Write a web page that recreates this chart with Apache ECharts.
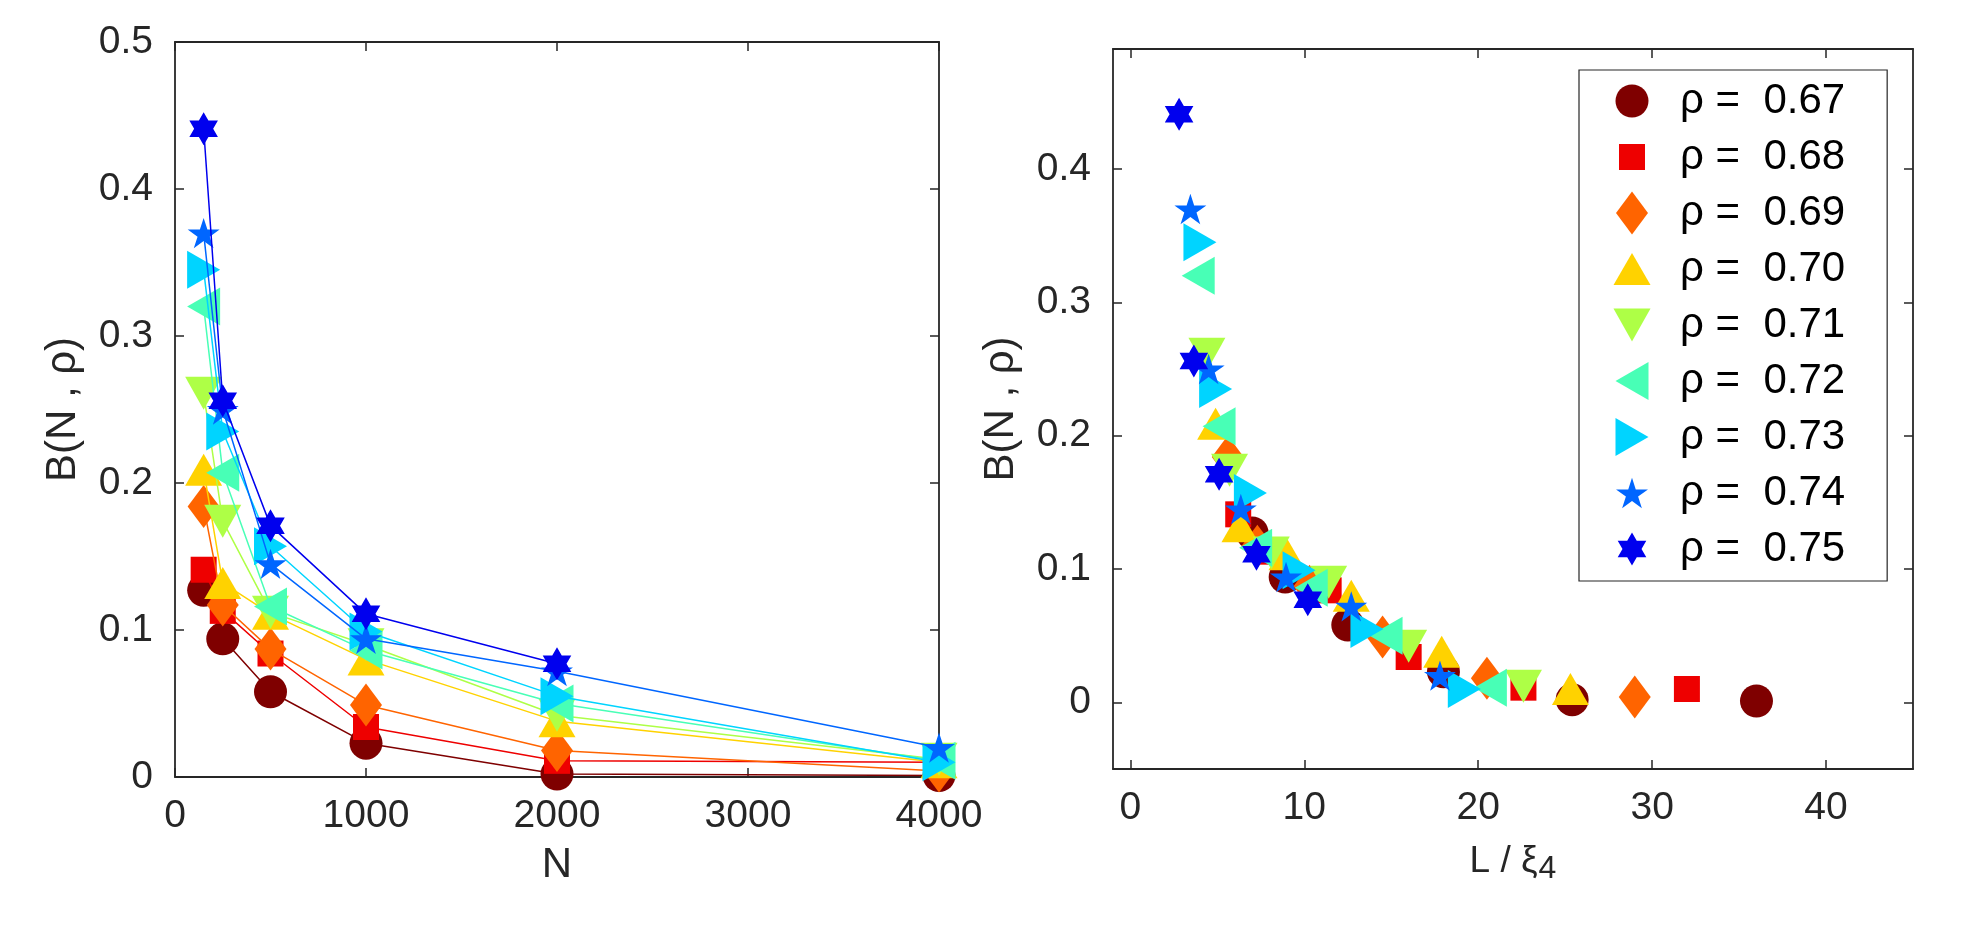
<!DOCTYPE html>
<html>
<head>
<meta charset="utf-8">
<script src="https://cdn.jsdelivr.net/npm/echarts@6/dist/echarts.min.js"></script>
<style>
  html, body { margin: 0; padding: 0; background: #fff; }
  #chart { width: 1988px; height: 932px; }
</style>
</head>
<body>
<div id="chart"></div>
<script>
// system sizes (left panel x values)
const sizesN = [150, 250, 500, 1000, 2000, 4000];
const rhoLabels = ['0.67', '0.68', '0.69', '0.70', '0.71', '0.72', '0.73', '0.74', '0.75'];

// B(N, rho), one list per density
const b067 = [0.127, 0.094, 0.058, 0.023, 0.002, 0.001];
const b068 = [0.141, 0.113, 0.084, 0.034, 0.011, 0.010];
const b069 = [0.184, 0.117, 0.087, 0.049, 0.018, 0.004];
const b070 = [0.209, 0.132, 0.111, 0.080, 0.038, 0.010];
const b071 = [0.261, 0.174, 0.112, 0.090, 0.042, 0.012];
const b072 = [0.320, 0.207, 0.116, 0.086, 0.050, 0.011];
const b073 = [0.345, 0.235, 0.157, 0.099, 0.055, 0.010];
const b074 = [0.370, 0.250, 0.145, 0.094, 0.072, 0.020];
const b075 = [0.441, 0.256, 0.171, 0.111, 0.077];

// L / xi_4 for the same points (right panel x values)
const s067 = [7.0, 8.9, 12.5, 18.0, 25.4, 36.0];
const s068 = [6.2, 8.0, 11.4, 16.0, 22.6, 32.0];
const s069 = [5.6, 7.3, 10.3, 14.5, 20.5, 29.0];
const s070 = [4.9, 6.3, 9.0, 12.7, 17.9, 25.3];
const s071 = [4.4, 5.7, 8.1, 11.4, 16.0, 22.6];
const s072 = [3.9, 5.1, 7.2, 10.4, 14.7, 20.7];
const s073 = [4.0, 4.9, 6.9, 9.7, 13.6, 19.2];
const s074 = [3.45, 4.5, 6.35, 8.95, 12.7, 17.8];
const s075 = [2.8, 3.65, 5.1, 7.25, 10.2];

// tick labels
const leftXTicks = [0, 1000, 2000, 3000, 4000];
const rightXTicks = [0, 10, 20, 30, 40];
const rightYTicks = [0, 0.1, 0.2, 0.3, 0.4];

const bValues = [b067, b068, b069, b070, b071, b072, b073, b074, b075];
const scaled = [s067, s068, s069, s070, s071, s072, s073, s074, s075];

const colors = ['#7f0000', '#ee0000', '#ff6400', '#ffd200', '#aeff46',
                '#48ffb6', '#00d4ff', '#0066ff', '#0000ee'];

// marker outlines drawn inside a 44x44 box centred on the point
const shapes = [
  'M5.5,22A16.5,16.5 0 1,1 38.5,22A16.5,16.5 0 1,1 5.5,22Z',
  'M9,9L35,9L35,35L9,35Z',
  'M22,0.5L38,22L22,43.5L6,22Z',
  'M22,6L40.5,38L3.5,38Z',
  'M3.5,5.5L40.5,5.5L22,38.5Z',
  'M5.5,22L38.5,3L38.5,41Z',
  'M5.5,3L38.5,22L5.5,41Z',
  'M22,6.8L25.77,18.41L37.98,18.41L28.1,25.58L31.87,37.19L22,30.02L12.13,37.19L15.9,25.58L6.02,18.41L18.23,18.41Z',
  'M22,5.5L26.76,13.75L36.29,13.75L31.52,22L36.29,30.25L26.76,30.25L22,38.5L17.24,30.25L7.71,30.25L12.48,22L7.71,13.75L17.24,13.75Z'
];
const markerSymbol = k => 'path://M0,0M44,44' + shapes[k];
const legendSymbol = k => 'path://M0,0M65,44' + shapes[k];

const FONT = '"Liberation Sans", Arial, Helvetica, sans-serif';
const INK = '#262626';
const fmt = v => String(+(+v).toFixed(2));

function boxAxis(extra) {
  return Object.assign({
    type: 'value',
    axisLine: { show: true, onZero: false, lineStyle: { color: INK, width: 1.8 } },
    axisTick: { show: true, inside: true, length: 9, lineStyle: { color: INK, width: 1.5 } },
    axisLabel: { show: false },
    splitLine: { show: false }
  }, extra);
}
const labelStyle = { show: true, fontFamily: FONT, fontSize: 39, color: INK, margin: 20, formatter: fmt };

const lineSeries = rhoLabels.map((r, k) => ({
  name: 'N ' + r,
  type: 'line',
  xAxisIndex: 0,
  yAxisIndex: 0,
  z: 2 + k,
  data: bValues[k].map((b, i) => [sizesN[i], b]),
  symbol: markerSymbol(k),
  symbolSize: 44,
  showAllSymbol: true,
  lineStyle: { color: colors[k], width: 1.5 },
  itemStyle: { color: colors[k], opacity: 1 },
  emphasis: { disabled: true },
  animation: false
}));

const scatterSeries = rhoLabels.map((r, k) => ({
  name: 'ρ =  ' + r,
  type: 'scatter',
  xAxisIndex: 2,
  yAxisIndex: 2,
  z: 2 + k,
  data: scaled[k].map((x, i) => [x, bValues[k][i]]),
  symbol: markerSymbol(k),
  symbolSize: 44,
  itemStyle: { color: colors[k], opacity: 1 },
  emphasis: { disabled: true },
  animation: false
}));

const chart = echarts.init(document.getElementById('chart'), null, { renderer: 'canvas' });
chart.setOption({
  backgroundColor: '#ffffff',
  animation: false,
  grid: [
    { left: 175, top: 42, width: 764, height: 735 },
    { left: 1113, top: 49, width: 800, height: 720 }
  ],
  xAxis: [
    boxAxis({ gridIndex: 0, position: 'bottom', min: 0, max: 4000, interval: 1000,
      axisLabel: Object.assign({}, labelStyle, { customValues: leftXTicks }),
      axisTick: { show: true, inside: true, length: 9, customValues: leftXTicks, lineStyle: { color: INK, width: 1.5 } },
      name: 'N', nameLocation: 'middle', nameGap: 67,
      nameTextStyle: { fontFamily: FONT, fontSize: 42, color: INK } }),
    boxAxis({ gridIndex: 0, position: 'top', min: 0, max: 4000, interval: 1000 }),
    boxAxis({ gridIndex: 1, position: 'bottom', min: -1, max: 45,
      axisLabel: Object.assign({}, labelStyle, { customValues: rightXTicks }),
      axisTick: { show: true, inside: true, length: 9, customValues: rightXTicks, lineStyle: { color: INK, width: 1.5 } },
      name: '{a|L / ξ}{s|4}', nameLocation: 'middle', nameGap: 70,
      nameTextStyle: { fontFamily: FONT, fontSize: 37, color: INK,
        rich: {
          a: { fontFamily: FONT, fontSize: 37, color: INK },
          s: { fontFamily: FONT, fontSize: 32, color: INK, padding: [14, 0, 0, 1] }
        } } }),
    boxAxis({ gridIndex: 1, position: 'top', min: -1, max: 45,
      axisTick: { show: true, inside: true, length: 9, customValues: rightXTicks, lineStyle: { color: INK, width: 1.5 } } })
  ],
  yAxis: [
    boxAxis({ gridIndex: 0, position: 'left', min: 0, max: 0.5, interval: 0.1,
      axisLabel: Object.assign({}, labelStyle, { margin: 22 }),
      name: 'B(N , ρ)', nameLocation: 'middle', nameGap: 91,
      nameTextStyle: { fontFamily: FONT, fontSize: 42, color: INK } }),
    boxAxis({ gridIndex: 0, position: 'right', min: 0, max: 0.5, interval: 0.1 }),
    boxAxis({ gridIndex: 1, position: 'left', min: -0.05, max: 0.49,
      axisLabel: Object.assign({}, labelStyle, { margin: 22, customValues: rightYTicks }),
      axisTick: { show: true, inside: true, length: 9, customValues: rightYTicks, lineStyle: { color: INK, width: 1.5 } },
      name: 'B(N , ρ)', nameLocation: 'middle', nameGap: 91,
      nameTextStyle: { fontFamily: FONT, fontSize: 42, color: INK } }),
    boxAxis({ gridIndex: 1, position: 'right', min: -0.05, max: 0.49,
      axisTick: { show: true, inside: true, length: 9, customValues: rightYTicks, lineStyle: { color: INK, width: 1.5 } } })
  ],
  legend: {
    orient: 'vertical',
    left: 1579,
    top: 70,
    padding: [9, 42, 10, 31],
    itemWidth: 65,
    itemHeight: 44,
    itemGap: 12,
    selectedMode: false,
    borderColor: INK,
    borderWidth: 1.2,
    backgroundColor: '#ffffff',
    textStyle: { fontFamily: FONT, fontSize: 42, color: '#000', lineHeight: 44 },
    data: rhoLabels.map((r, k) => ({ name: 'ρ =  ' + r, icon: legendSymbol(k) }))
  },
  series: lineSeries.concat(scatterSeries)
});
</script>
</body>
</html>
